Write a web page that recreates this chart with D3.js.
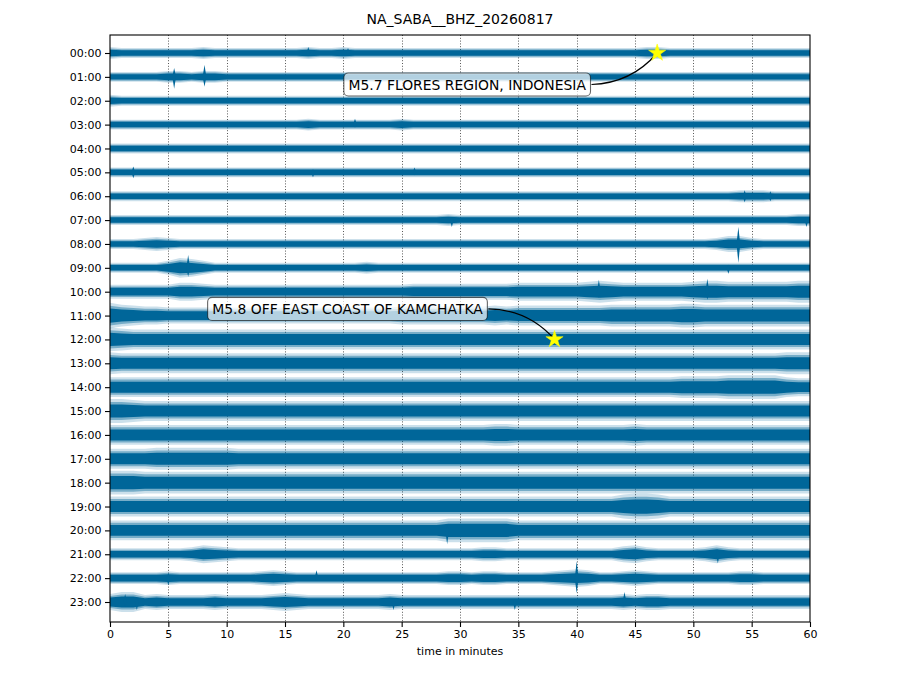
<!DOCTYPE html>
<html><head><meta charset="utf-8">
<script src="https://cdn.jsdelivr.net/npm/d3@7"></script>
<style>
body{margin:0;background:#fff}
svg{display:block}
text{font-family:"DejaVu Sans",sans-serif}
</style>
</head><body>
<svg id="chart" width="920" height="690"></svg>
<script>
// ---------------- data ----------------
const chartTitle = "NA_SABA__BHZ_20260817";
const xLabel = "time in minutes";
const hourLabels = ["00:00","01:00","02:00","03:00","04:00","05:00","06:00","07:00",
  "08:00","09:00","10:00","11:00","12:00","13:00","14:00","15:00",
  "16:00","17:00","18:00","19:00","20:00","21:00","22:00","23:00"];
const minuteTicks = [0,5,10,15,20,25,30,35,40,45,50,55,60];

// outer envelope (half amplitude, relative units) of each hourly trace, one value per minute 0..60 (base-36 digits)
const envelopes = [
  "6555555565 5555555655 6555555555 5555555555 5555556655 5555555555 5",
  "5555566566 5555555555 5555555555 5555555555 5555555555 5555555555 5",
  "6555555555 5555555555 5555555555 5555555555 5555555555 5555555555 5",
  "5555555555 5555555655 5555565555 5555555555 5555555555 5555555555 5",
  "5555555555 5555555555 5555555555 5555555555 5555555555 5555555555 5",
  "5555555555 5555555555 5555555555 5555555555 5555555555 5555555555 5",
  "5555555555 5555555555 5555555555 5555555555 5555555555 5555666555 5",
  "5555555555 5555555555 5555555556 5555555555 5555555555 5555555556 6",
  "5556765555 5555555555 5555555555 5555555555 5555555555 5568865555 5",
  "555557a975 5555555555 5565555555 5555555555 5555555555 5555555555 5",
  "7777779987 7777777777 7777778888 8888899999 9aba999999 abbaaaaaab b",
  "dba9988888 8888888888 8888899999 999a9aaaaa aaabbbbbbc cbbbbbbbbb b",
  "cbaaaaaaaa aaaaaaaaaa aaaaaaaaaa aaaaaaaaaa aaaaaaaaaa aaaaaaaaaa a",
  "baaaaaaaaa aaaaaaaaaa aaaaaaaaaa aaaaaaaaaa aaaaaaaaaa aaaaaaaabb b",
  "aaaaaaaaaa aaaaaaaaaa aaaaaaaaaa aaaaaaaaaa aaaaaaaaab bbbccccca9 9",
  "ccbaaaaaaa aaaaaaaaaa aaaaaaaaaa aaaaaaaaaa aaaaaaaaaa aaaaaaaaaa a",
  "aaaaaaaaaa aaaaaaaaaa aaaaaaaaaa aaabbaaaaa aaaaabaaaa aaaaaaaaaa a",
  "aaaabbbbbb baaaaaaaaa aaaaaaaaaa aaaaaaaaaa aaaaaaaaaa aaaaaaaaaa a",
  "cccbbbbbbb bbbbbbbbbb bbbbbbbbbb bbbbbbbbbb bbbbbbbbbb bbbbbbbbbb b",
  "aaaaaaaaaa aaaaaaaaaa aaaaaaaaaa aaaaaaaaaa aaaacddcaa aaaaaaaaaa a",
  "aaaaaaaaaa aaaaaaaaaa aaaaaaaaac cccccaaaaa aaaaaaaaaa aaaaaaaaaa a",
  "6666666798 7666666666 6666666666 6677666666 6666897666 6797666666 6",
  "6666676666 6667876666 6666666667 7677666678 9866787666 6666776666 6",
  "8aa7877778 7777898777 7777877777 7777777777 7777878877 7777777777 7"
];

// isolated spikes: [hour, minute, amplitude up, amplitude down]
const spikes = [
  ["00:00",17.0,6,3],["00:00",20.4,5,3],
  ["01:00",5.5,9,12],["01:00",8.1,12,10],
  ["03:00",21.0,6,3],
  ["05:00",2.0,6,6],["05:00",17.4,3,5],["05:00",26.1,5,3],
  ["06:00",54.4,6,6],["06:00",56.6,5,5],
  ["07:00",29.3,3,7],["07:00",59.7,3,7],
  ["08:00",53.86,17,19],
  ["09:00",6.7,13,9],["09:00",53.0,3,6],
  ["10:00",41.9,12,6],["10:00",51.2,13,8],
  ["20:00",28.9,5,14],
  ["21:00",52.1,5,9],
  ["22:00",5.0,5,7],["22:00",17.7,8,3],["22:00",40.0,17,15],
  ["23:00",1.3,8,5],["23:00",2.3,5,8],["23:00",24.3,3,8],["23:00",34.7,3,8],["23:00",44.1,10,4]
];

// earthquake events
const eventLabels = ["M5.7 FLORES REGION, INDONESIA","M5.8 OFF EAST COAST OF KAMCHATKA"];
const eventHours = ["00:00","12:00"];
const eventMinutes = [46.9, 38.1];

// ---------------- layout ----------------
const W = 920, H = 690;
const plot = {left:110, right:810, top:35, bottom:622};
const traceColor = "#006699";
const labelOffsets = [{dx:-190, dy:31.5, bend:1}, {dx:-207, dy:-30.5, bend:-1}];

const svg = d3.select("#chart");
svg.append("rect").attr("width",W).attr("height",H).attr("fill","#fff");

const x = d3.scaleLinear().domain([0,60]).range([plot.left, plot.right]);
const y = d3.scalePoint().domain(hourLabels).range([53, 602]);
const amp = d3.scaleLinear().domain([0,24]).range([0, y.step()]);

// clip
svg.append("defs").append("clipPath").attr("id","clip")
  .append("rect").attr("x",plot.left).attr("y",plot.top)
  .attr("width",plot.right-plot.left).attr("height",plot.bottom-plot.top);

// grid
svg.append("g").selectAll("line").data(minuteTicks.filter(d=>d>0&&d<60)).join("line")
  .attr("x1",d=>Math.round(x(d))+0.5).attr("x2",d=>Math.round(x(d))+0.5)
  .attr("y1",plot.top).attr("y2",plot.bottom)
  .attr("stroke","#444").attr("stroke-width",0.9).attr("stroke-dasharray","1,1.8");

// traces
const traces = svg.append("g").attr("clip-path","url(#clip)");
const layers = [{k:1.0, op:0.2},{k:0.76, op:0.42},{k:0.55, op:1}];
envelopes.forEach((s, i) => {
  const vals = s.replace(/\s/g,"").split("").map(c => parseInt(c,36));
  const pts = vals.map((v, m) => ({m, v}));
  const cy = y(hourLabels[i]);
  layers.forEach(L => {
    const area = d3.area()
      .x(d => x(d.m))
      .y0(d => cy + amp(d.v*L.k))
      .y1(d => cy - amp(d.v*L.k))
      .curve(d3.curveLinear);
    traces.append("path").attr("d", area(pts))
      .attr("fill", traceColor).attr("fill-opacity", L.op);
  });
});
// spikes
const spikeLine = d3.line().x(d=>x(d[0])).y(d=>d[1]);
spikes.forEach(([h, m, up, dn]) => {
  const cy = y(h);
  const w = 0.16;
  traces.append("path")
    .attr("d", spikeLine([[m-w,cy],[m,cy-amp(up)],[m+w,cy],[m,cy+amp(dn)]]) + "Z")
    .attr("fill", traceColor);
});

// frame
svg.append("rect").attr("x",plot.left).attr("y",plot.top)
  .attr("width",plot.right-plot.left).attr("height",plot.bottom-plot.top)
  .attr("fill","none").attr("stroke","#000").attr("stroke-width",1.1);

// axes
const yAxis = svg.append("g").attr("transform",`translate(${plot.left},0)`)
  .call(d3.axisLeft(y).tickSize(5).tickPadding(3.5));
const xAxis = svg.append("g").attr("transform",`translate(0,${plot.bottom})`)
  .call(d3.axisBottom(x).tickValues(minuteTicks).tickSize(5).tickPadding(3.5).tickFormat(d3.format("d")));
[yAxis, xAxis].forEach(g => {
  g.select(".domain").remove();
  g.selectAll("line").attr("stroke","#000").attr("stroke-width",1.1);
  g.selectAll("text").attr("font-size","11px").attr("fill","#000")
    .attr("font-family","'DejaVu Sans',sans-serif");
});

// title + x label
svg.append("text").attr("x",(plot.left+plot.right)/2).attr("y",24)
  .attr("text-anchor","middle").attr("font-size","14px").text(chartTitle);
svg.append("text").attr("x",(plot.left+plot.right)/2).attr("y",655)
  .attr("text-anchor","middle").attr("font-size","11px").text(xLabel);

// annotations
const ann = svg.append("g");
eventLabels.forEach((lab, i) => {
  const sx = x(eventMinutes[i]), sy = y(eventHours[i]);
  const off = labelOffsets[i];
  const tx = sx + off.dx, ty = sy + off.dy;
  const g = ann.append("g");
  const rect = g.append("rect");
  const t = g.append("text").attr("x",tx).attr("y",ty).attr("text-anchor","middle")
    .attr("dy","0.36em").attr("font-size","13.9px").attr("fill","#000").text(lab);
  const tw = t.node().getComputedTextLength();
  const pad = 4.6, th = 13.9;
  const bx0 = tx - tw/2 - pad, bx1 = tx + tw/2 + pad;
  rect.attr("x",bx0).attr("y",ty - th/2 - pad).attr("width",bx1-bx0).attr("height",th + 2*pad)
    .attr("rx",4.5).attr("ry",4.5)
    .attr("fill","#fff").attr("fill-opacity",0.7)
    .attr("stroke","#000").attr("stroke-opacity",0.6).attr("stroke-width",1.1);
  // connector (arc)
  const x1 = bx1 + 1, y1 = ty, x2 = sx, y2 = sy;
  const mx = (x1+x2)/2, my = (y1+y2)/2, ddx = x2-x1, ddy = y2-y1;
  const f = 0.22 * off.bend;
  const cx = mx - f*ddy, cy = my + f*ddx;
  const p = d3.path(); p.moveTo(x1,y1); p.quadraticCurveTo(cx,cy,x2,y2);
  ann.append("path").attr("d",p.toString()).attr("fill","none").attr("stroke","#000").attr("stroke-width",1.2);
  ann.append("path").attr("transform",`translate(${sx},${sy})`)
    .attr("d", d3.symbol(d3.symbolStar, 92)())
    .attr("fill","#ffff00").attr("stroke","#ffff00").attr("stroke-width",0.5);
});
</script>
</body></html>
